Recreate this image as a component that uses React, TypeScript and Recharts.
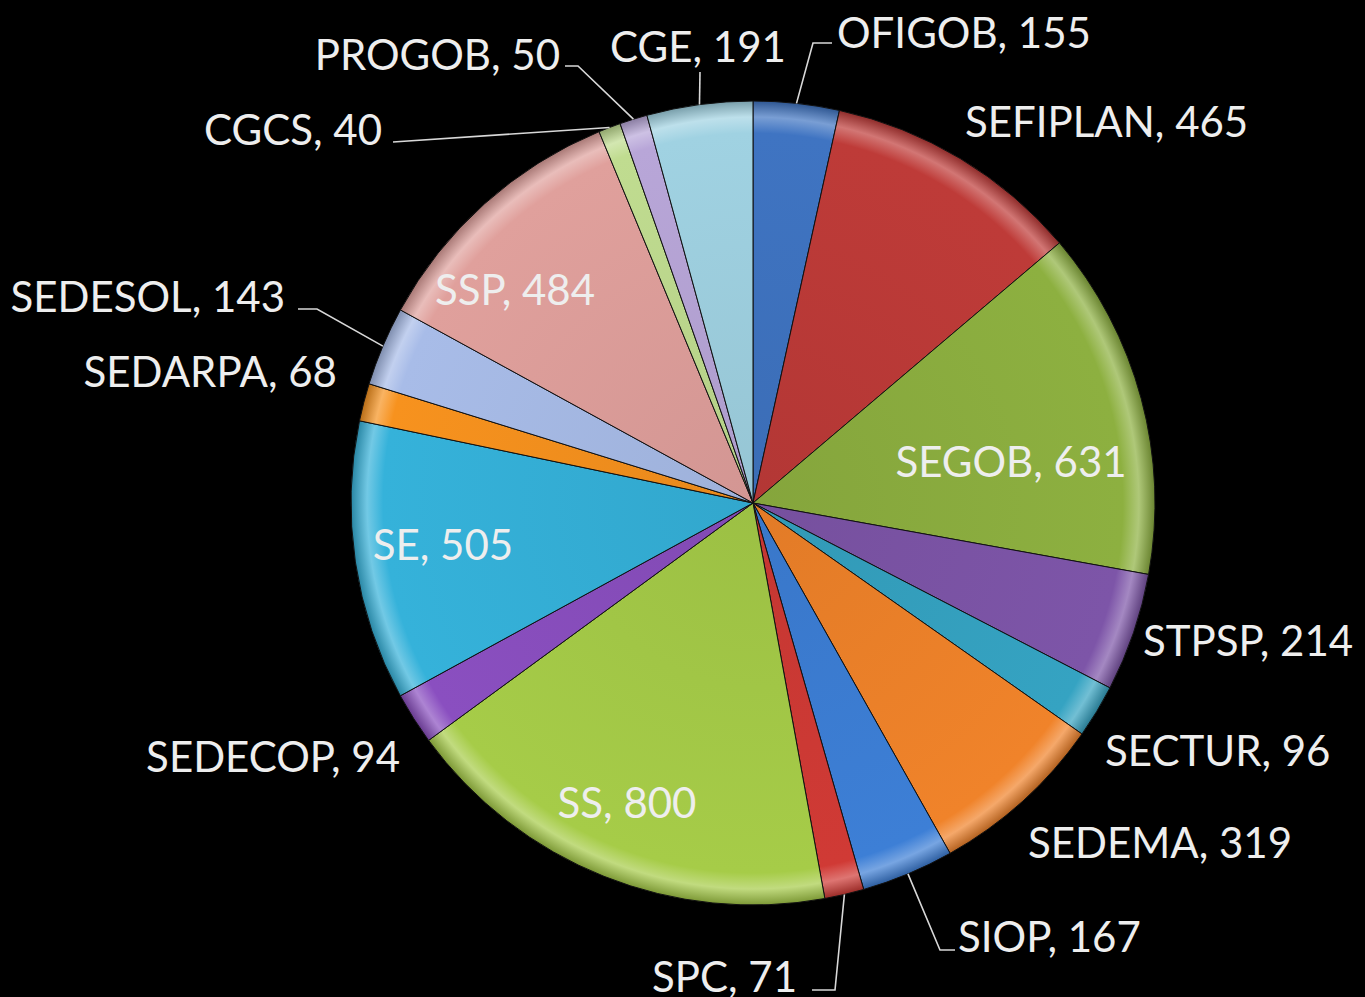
import { PieChart, Pie, Cell } from 'recharts'

// Data, clockwise from 12 o'clock
const categories = [
  'OFIGOB', 'SEFIPLAN', 'SEGOB', 'STPSP', 'SECTUR', 'SEDEMA', 'SIOP', 'SPC', 'SS',
  'SEDECOP', 'SE', 'SEDARPA', 'SEDESOL', 'SSP', 'CGCS', 'PROGOB', 'CGE',
]
const values = [155, 465, 631, 214, 96, 319, 167, 71, 800, 94, 505, 68, 143, 484, 40, 50, 191]

const colors = [
  '#3F74C2', '#BE3B38', '#8DB040', '#7D55A8', '#35A3C2', '#F0832A', '#3D7FD6', '#D03A35', '#A6CC48',
  '#8A4FC0', '#35B2DA', '#F7921E', '#A8BCE8', '#E0A09C', '#C0DC90', '#B8A6D8', '#A0D2E2',
]

const chartData = categories.map((name, i) => ({ name, value: values[i] }))

// label placement, offsets from the pie centre (text anchor / baseline)
type Layout = { x: number; y: number; anchor: 'start' | 'middle' | 'end'; leader?: [number, number][] }
const labelLayout: Record<string, Layout> = {
  OFIGOB: { x: 84, y: -455, anchor: 'start', leader: [[60, -460], [79, -460]] },
  SEFIPLAN: { x: 212, y: -366, anchor: 'start' },
  SEGOB: { x: 258, y: -26, anchor: 'middle' },
  STPSP: { x: 390, y: 153, anchor: 'start' },
  SECTUR: { x: 352, y: 263, anchor: 'start' },
  SEDEMA: { x: 275, y: 355, anchor: 'start' },
  SIOP: { x: 205, y: 449, anchor: 'start', leader: [[187, 447], [202, 447]] },
  SPC: { x: 44, y: 489, anchor: 'end', leader: [[82, 487], [59, 487]] },
  SS: { x: -126, y: 315, anchor: 'middle' },
  SEDECOP: { x: -353, y: 269, anchor: 'end' },
  SE: { x: -310, y: 57, anchor: 'middle' },
  SEDARPA: { x: -416, y: -116, anchor: 'end' },
  SEDESOL: { x: -468, y: -191, anchor: 'end', leader: [[-436, -194], [-455, -194]] },
  SSP: { x: -238, y: -198, anchor: 'middle' },
  CGCS: { x: -371, y: -358, anchor: 'end', leader: [[-360, -361]] },
  PROGOB: { x: -193, y: -433, anchor: 'end', leader: [[-175, -437], [-188, -437]] },
  CGE: { x: -55, y: -441, anchor: 'middle', leader: [[-53, -431]] },
}

const RADIAN = Math.PI / 180
const CX = 753
const CY = 503
const R = 402

const mix = (hex: string, target: number, t: number) => {
  const n = parseInt(hex.slice(1), 16)
  const c = [(n >> 16) & 255, (n >> 8) & 255, n & 255].map(v => Math.round(v + (target - v) * t))
  return `rgb(${c[0]},${c[1]},${c[2]})`
}

const renderLabel = (props: any) => {
  const { cx, cy, midAngle, outerRadius, name, value } = props
  const lay = labelLayout[name]
  if (!lay) return null
  const sx = cx + outerRadius * Math.cos(-midAngle * RADIAN)
  const sy = cy + outerRadius * Math.sin(-midAngle * RADIAN)
  const pts = lay.leader
    ? [[sx, sy], ...lay.leader.map(([dx, dy]) => [cx + dx, cy + dy])].map(p => p.join(',')).join(' ')
    : null
  return (
    <g>
      {pts && <polyline points={pts} fill="none" stroke="#d8d8d8" strokeWidth={1.6} />}
      <text
        x={cx + lay.x}
        y={cy + lay.y}
        textAnchor={lay.anchor}
        fill="#eeeeee"
        fontSize={42}
        fontFamily="Lato, 'Open Sans', sans-serif"
      >
        {`${name}, ${value}`}
      </text>
    </g>
  )
}

export default function App() {
  return (
    <div style={{ width: 1365, height: 997, background: '#000' }}>
      <style>{'body{margin:0;background:#000}'}</style>
      <PieChart width={1365} height={997} margin={{ top: 0, right: 0, bottom: 0, left: 0 }}>
        <defs>
          {colors.map((c, i) => (
            <radialGradient key={i} id={`bevel-${i}`} gradientUnits="userSpaceOnUse" cx={CX} cy={CY} r={R}>
              <stop offset="0%" stopColor={mix(c, 0, 0.06)} />
              <stop offset="92%" stopColor={c} />
              <stop offset="96%" stopColor={mix(c, 255, 0.3)} />
              <stop offset="100%" stopColor={mix(c, 0, 0.25)} />
            </radialGradient>
          ))}
        </defs>
        <Pie
          data={chartData}
          dataKey="value"
          nameKey="name"
          cx={CX}
          cy={CY}
          outerRadius={R}
          startAngle={90}
          endAngle={-270}
          stroke="#111"
          strokeWidth={1}
          label={renderLabel}
          labelLine={false}
          isAnimationActive={false}
        >
          {chartData.map((d, i) => (
            <Cell key={d.name} fill={`url(#bevel-${i})`} />
          ))}
        </Pie>
      </PieChart>
    </div>
  )
}
